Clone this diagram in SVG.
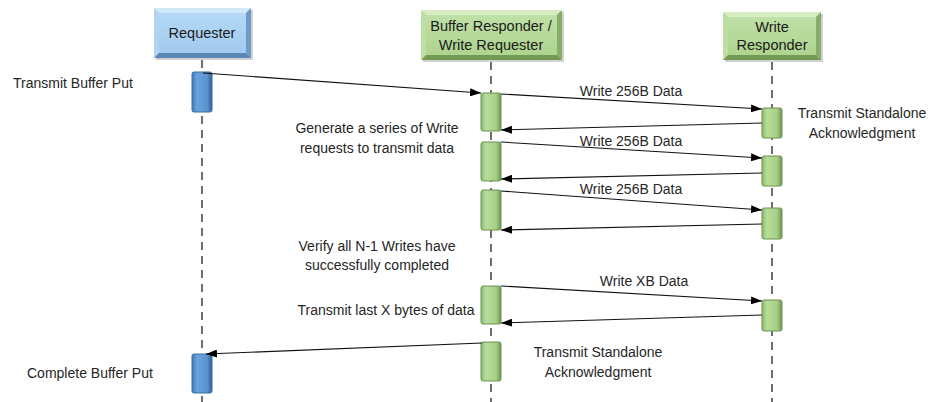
<svg xmlns="http://www.w3.org/2000/svg" width="930" height="402" viewBox="0 0 930 402">
<style>
.t{font-family:"Liberation Sans",Arial,sans-serif;font-size:14px;fill:#262626}
.h{font-family:"Liberation Sans",Arial,sans-serif;font-size:14.5px;fill:#1a1a1a;text-anchor:middle}
.c{text-anchor:middle}
.life{stroke:#222;stroke-width:1.3;stroke-dasharray:8 6;fill:none}
.msg{stroke:#111;stroke-width:1.1;fill:none;marker-end:url(#ah)}
.bb{fill:url(#gBlue);stroke:#3a6fa0;stroke-width:1}
.gb{fill:url(#gGreen);stroke:#6f9450;stroke-width:1}
.sh{fill:#000;opacity:0.18}
.bt{fill:#d2e8fb}.bl{fill:#b2d4f2}.br{fill:#6d9bc8}.bo{fill:#5a87b5}
.gt{fill:#d6ecc2}.gl{fill:#bedea4}.gr{fill:#86ad68}.go{fill:#729a54}
</style>
<defs>
<marker id="ah" markerUnits="userSpaceOnUse" markerWidth="12" markerHeight="8" refX="11" refY="4" orient="auto">
<path d="M0,0 L11,4 L0,8 z" fill="#000"/>
</marker>
<linearGradient id="gBlue" x1="0" y1="0" x2="1" y2="0">
<stop offset="0" stop-color="#3e7bbd"/>
<stop offset="0.25" stop-color="#6aa3dc"/>
<stop offset="0.75" stop-color="#5b95d0"/>
<stop offset="1" stop-color="#2f5f93"/>
</linearGradient>
<linearGradient id="gGreen" x1="0" y1="0" x2="1" y2="0">
<stop offset="0" stop-color="#8cb86c"/>
<stop offset="0.25" stop-color="#b8dc9c"/>
<stop offset="0.75" stop-color="#a6cf88"/>
<stop offset="1" stop-color="#6f9450"/>
</linearGradient>
<linearGradient id="hBlue" x1="0" y1="0" x2="0" y2="1">
<stop offset="0" stop-color="#b4d8f6"/>
<stop offset="1" stop-color="#a2cbee"/>
</linearGradient>
<linearGradient id="hGreen" x1="0" y1="0" x2="0" y2="1">
<stop offset="0" stop-color="#bfe0a6"/>
<stop offset="1" stop-color="#aed48f"/>
</linearGradient>
</defs>

<g id="lifelines">
<line class="life" x1="202" y1="60" x2="202" y2="402"/>
<line class="life" x1="491" y1="62" x2="491" y2="402"/>
<line class="life" x1="772" y1="62" x2="772" y2="402"/>
</g>

<g id="requester">
<rect class="sh" x="156" y="10" width="97" height="50"/>
<polygon class="bt" points="154,8 251,8 246,13 159,13"/>
<polygon class="bl" points="154,8 159,13 159,53 154,58"/>
<polygon class="br" points="251,8 251,58 246,53 246,13"/>
<polygon class="bo" points="154,58 159,53 246,53 251,58"/>
<rect x="159" y="13" width="87" height="40" fill="url(#hBlue)"/>
<text class="h" x="202" y="38">Requester</text>
</g>

<g id="buffer-responder">
<rect class="sh" x="423" y="12" width="141" height="50"/>
<polygon class="gt" points="421,10 562,10 557,15 426,15"/>
<polygon class="gl" points="421,10 426,15 426,55 421,60"/>
<polygon class="gr" points="562,10 562,60 557,55 557,15"/>
<polygon class="go" points="421,60 426,55 557,55 562,60"/>
<rect x="426" y="15" width="131" height="40" fill="url(#hGreen)"/>
<text class="h" x="491" y="31">Buffer Responder /</text>
<text class="h" x="491" y="50">Write Requester</text>
</g>

<g id="write-responder">
<rect class="sh" x="725" y="14" width="98" height="48"/>
<polygon class="gt" points="723,12 821,12 816,17 728,17"/>
<polygon class="gl" points="723,12 728,17 728,55 723,60"/>
<polygon class="gr" points="821,12 821,60 816,55 816,17"/>
<polygon class="go" points="723,60 728,55 816,55 821,60"/>
<rect x="728" y="17" width="88" height="38" fill="url(#hGreen)"/>
<text class="h" x="772" y="32">Write</text>
<text class="h" x="772" y="50">Responder</text>
</g>

<g id="activations">
<rect class="bb" x="192" y="72" width="20" height="40" rx="2"/>
<rect class="bb" x="192" y="354" width="20" height="39" rx="2"/>
<rect class="gb" x="481" y="93" width="20" height="38" rx="2"/>
<rect class="gb" x="481" y="142" width="20" height="39" rx="2"/>
<rect class="gb" x="481" y="190" width="20" height="40" rx="2"/>
<rect class="gb" x="481" y="286" width="20" height="38" rx="2"/>
<rect class="gb" x="481" y="342" width="20" height="39" rx="2"/>
<rect class="gb" x="762" y="108" width="20" height="30" rx="2"/>
<rect class="gb" x="762" y="156" width="20" height="30" rx="2"/>
<rect class="gb" x="762" y="208" width="20" height="31" rx="2"/>
<rect class="gb" x="762" y="300" width="20" height="31" rx="2"/>
</g>

<g id="connectors">
<line class="msg" x1="203" y1="73" x2="481" y2="93"/>
<line class="msg" x1="501" y1="94" x2="762" y2="109"/>
<line class="msg" x1="762" y1="123" x2="501" y2="130"/>
<line class="msg" x1="501" y1="142" x2="762" y2="158"/>
<line class="msg" x1="762" y1="173" x2="501" y2="179"/>
<line class="msg" x1="501" y1="191" x2="762" y2="210"/>
<line class="msg" x1="762" y1="224" x2="501" y2="230"/>
<line class="msg" x1="501" y1="286" x2="762" y2="301"/>
<line class="msg" x1="762" y1="315" x2="501" y2="323"/>
<line class="msg" x1="482" y1="343" x2="206" y2="354"/>
</g>

<g id="labels">
<text class="t" x="13" y="88">Transmit Buffer Put</text>
<text class="t c" x="631" y="96">Write 256B Data</text>
<text class="t c" x="631" y="146">Write 256B Data</text>
<text class="t c" x="631" y="194">Write 256B Data</text>
<text class="t c" x="644" y="286">Write XB Data</text>
<text class="t c" x="862" y="118">Transmit Standalone</text>
<text class="t c" x="862" y="138">Acknowledgment</text>
<text class="t c" x="377" y="133">Generate a series of Write</text>
<text class="t c" x="377" y="153">requests to transmit data</text>
<text class="t c" x="377" y="251">Verify all N-1 Writes have</text>
<text class="t c" x="377" y="270">successfully completed</text>
<text class="t c" x="386" y="315">Transmit last X bytes of data</text>
<text class="t c" x="598" y="357">Transmit Standalone</text>
<text class="t c" x="598" y="377">Acknowledgment</text>
<text class="t" x="27" y="378">Complete Buffer Put</text>
</g>
</svg>
